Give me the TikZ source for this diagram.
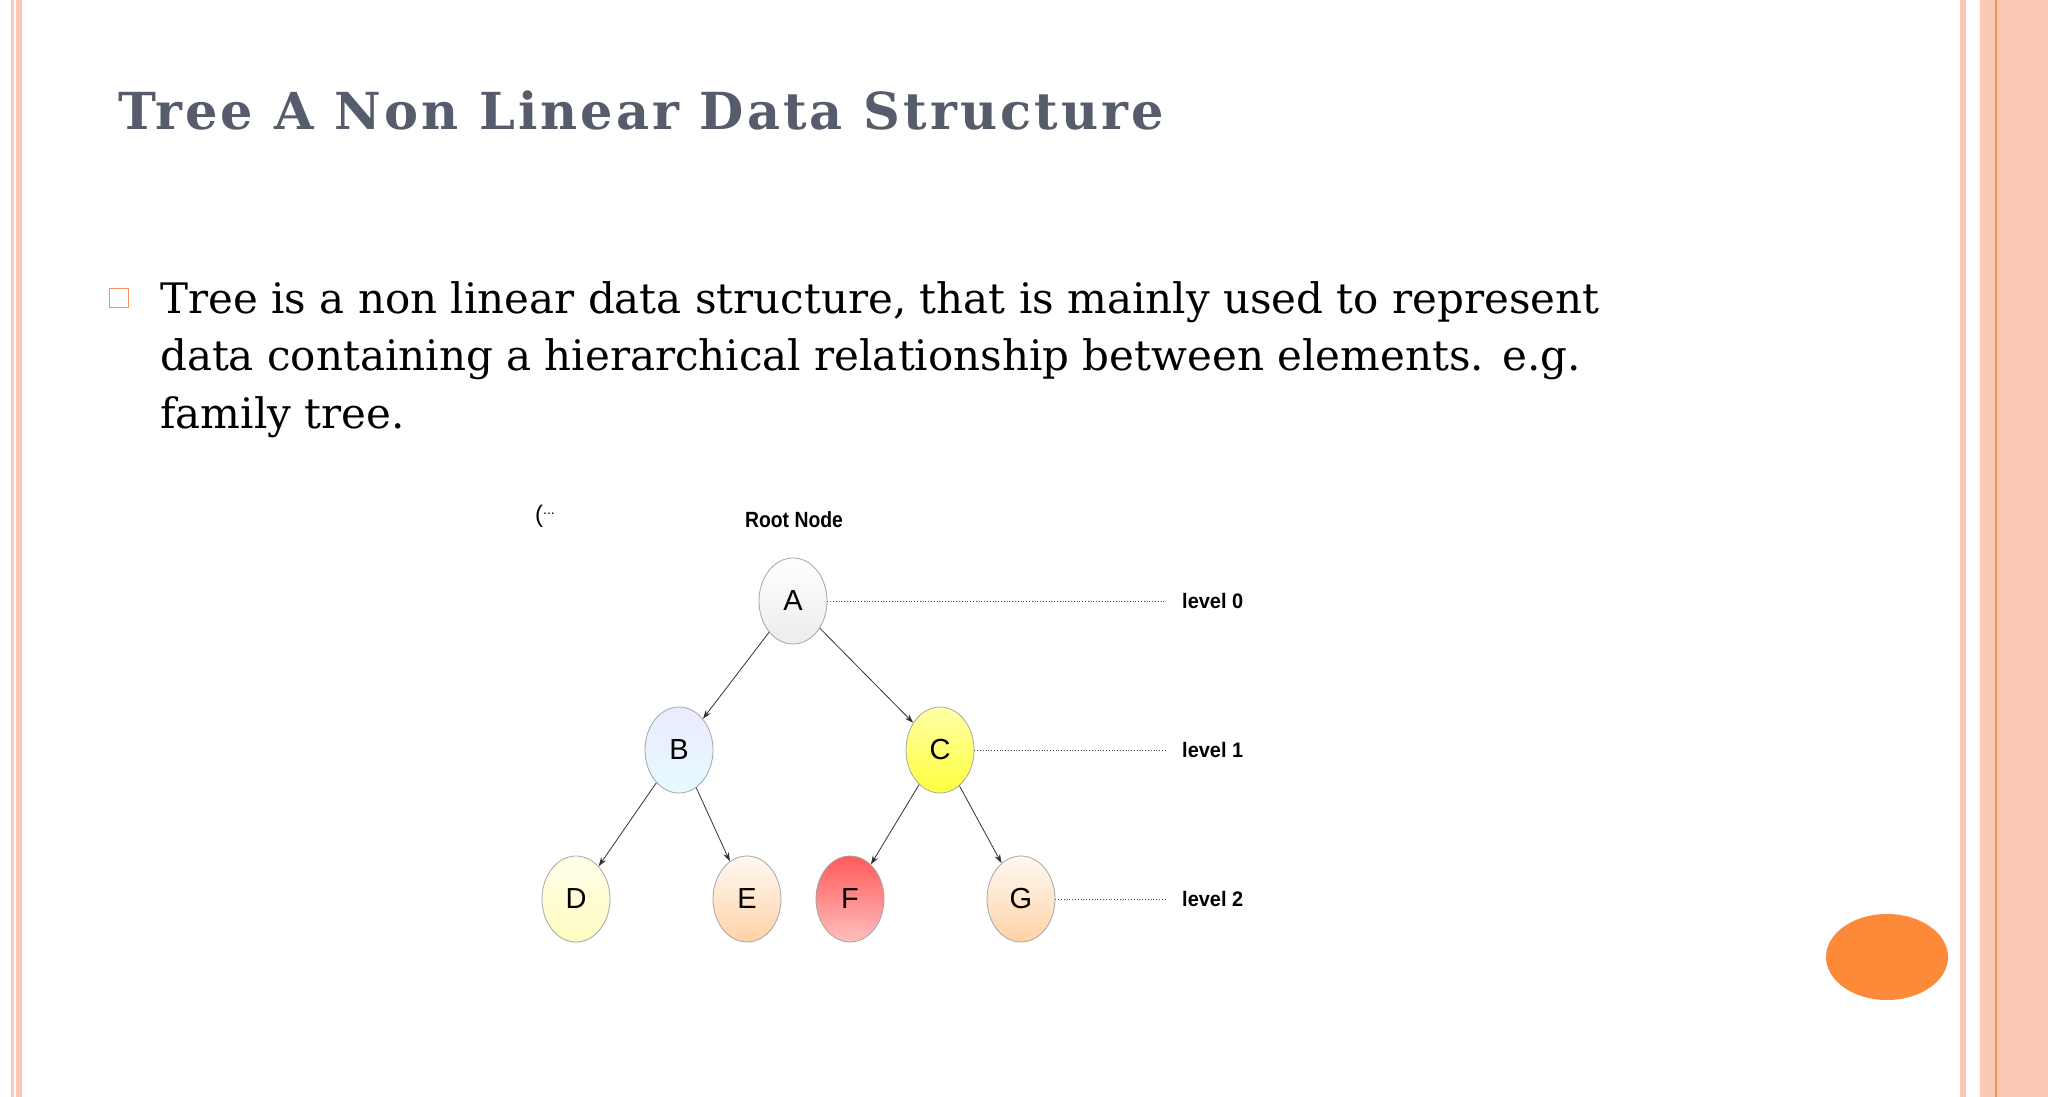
\documentclass[tikz,border=0pt]{standalone}
\usepackage{fontspec}
\setmainfont{DejaVu Serif}
\newfontfamily\titlefont[LetterSpace=6]{DejaVu Serif}
\newfontfamily\diagfont{Liberation Sans}
\usetikzlibrary{shapes.geometric,arrows.meta}
\definecolor{stripe}{HTML}{FBC9B4}
\definecolor{stripeline}{HTML}{F4935C}
\definecolor{orangedot}{HTML}{FC8A38}
\definecolor{titlegray}{HTML}{565C6B}
\tikzset{
  tnode/.style={ellipse, draw=gray!70, line width=0.8pt, minimum width=68pt, minimum height=86pt, inner sep=0pt, font=\diagfont\fontsize{29}{29}\selectfont},
  edge/.style={-{Stealth[length=9pt,width=6pt]}, line width=0.8pt, draw=black!80},
  lvl/.style={dotted, line width=0.8pt, draw=black!70},
  lvltext/.style={anchor=west, font=\diagfont\bfseries\fontsize{21}{21}\selectfont, inner sep=0pt, xscale=0.95}
}
\begin{document}
\begin{tikzpicture}[x=1pt,y=-1pt]
\useasboundingbox (0,0) rectangle (2048,1097);
\fill[white] (0,0) rectangle (2048,1097);
% side stripes
\fill[stripe] (11,0) rectangle (14,1097);
\fill[stripe] (16,0) rectangle (22,1097);
\fill[stripe] (1960,0) rectangle (1966,1097);
\fill[stripe] (1980,0) rectangle (2048,1097);
\draw[stripeline, line width=1.2pt] (1996,0) -- (1996,1097);
% title
\node[anchor=base west, inner sep=0pt, text=titlegray, font=\titlefont\bfseries\fontsize{51}{51}\selectfont] (title) at (118,130) {Tree A Non Linear Data Structure};
% bullet
\node[draw=stripeline, line width=1.2pt, minimum size=19pt, inner sep=0pt] (bullet) at (119,298) {};
\node[anchor=base west, inner sep=0pt, align=left, font=\fontsize{42}{57.5}\selectfont] (body) at (160,428) {Tree is a non linear data structure, that is mainly used to represent\\ data containing a hierarchical relationship between elements. e.g.\\ family tree.};
% tree
\node[anchor=base west, inner sep=0pt, font=\diagfont\fontsize{24}{24}\selectfont] (frag) at (535,522) {(\raisebox{8pt}{\fontsize{14}{14}\selectfont ...}};
\node[font=\diagfont\bfseries\fontsize{22}{22}\selectfont, xscale=0.88] (root) at (794,520) {Root Node};
\node[tnode, top color=white, bottom color=gray!15] (A) at (793,601) {A};
\node[tnode, top color=blue!8, bottom color=blue!18!cyan!10] (B) at (679,750) {B};
\node[tnode, top color=yellow!35, bottom color=yellow!75] (C) at (940,750) {C};
\node[tnode, top color=yellow!8, bottom color=orange!15!yellow!25] (D) at (576,899) {D};
\node[tnode, top color=orange!5, bottom color=orange!35] (E) at (747,899) {E};
\node[tnode, top color=red!65, bottom color=red!25] (F) at (850,899) {F};
\node[tnode, top color=orange!5, bottom color=orange!35] (G) at (1021,899) {G};
\draw[edge] (A) -- (B);
\draw[edge] (A) -- (C);
\draw[edge] (B) -- (D);
\draw[edge] (B) -- (E);
\draw[edge] (C) -- (F);
\draw[edge] (C) -- (G);
\node[lvltext] (L0) at (1182,601) {level 0};
\node[lvltext] (L1) at (1182,750) {level 1};
\node[lvltext] (L2) at (1182,899) {level 2};
\coordinate (e0) at (1166,601);
\coordinate (e1) at (1166,750);
\coordinate (e2) at (1166,899);
\draw[lvl] (A.east) -- (e0);
\draw[lvl] (C.east) -- (e1);
\draw[lvl] (G.east) -- (e2);
% orange dot
\node[ellipse, fill=orangedot, minimum width=122pt, minimum height=86pt, inner sep=0pt] (dot) at (1887,957) {};
\end{tikzpicture}
\end{document}
